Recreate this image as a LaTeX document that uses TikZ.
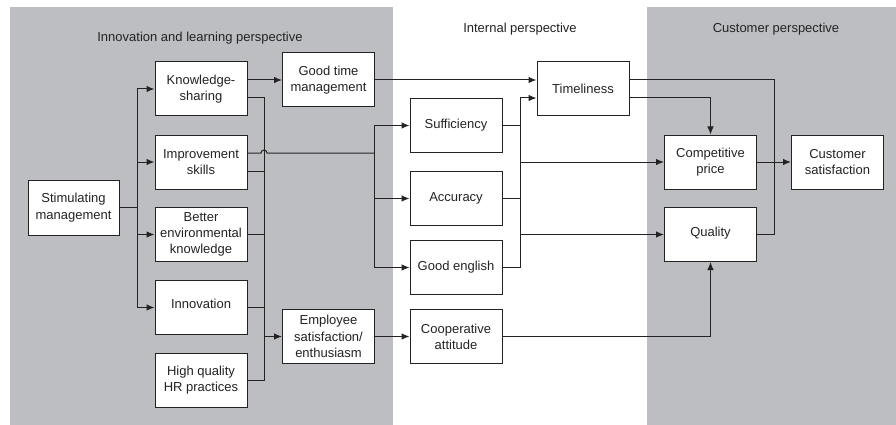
\documentclass[tikz,border=0pt]{standalone}
\usepackage{fontspec}
\setmainfont{Liberation Sans}
\usepackage{tikz}
\usetikzlibrary{arrows.meta}

\definecolor{panelgrey}{RGB}{189,190,194}
\definecolor{inkgrey}{RGB}{35,35,35}

\begin{document}
\begin{tikzpicture}[x=1pt, y=-1pt,
	box/.style={draw=inkgrey, line width=1pt, fill=white, minimum width=92pt, minimum height=54pt,
		inner sep=1pt, align=center, font=\fontsize{13}{16.3}\selectfont, text=inkgrey},
	title/.style={font=\fontsize{13}{15}\selectfont, text=inkgrey},
	line/.style={draw=inkgrey, line width=1pt},
	arr/.style={line, -{Latex[length=8pt,width=6.5pt]}}]
	\useasboundingbox (0,0) rectangle (896,425);
	% panels
	\fill[white] (0,0) rectangle (896,425);
	\fill[panelgrey] (10,7) rectangle (393,425);
	\fill[panelgrey] (647,7) rectangle (896,425);
	\node[title] (t1) at (200,38) {Innovation and learning perspective};
	\node[title] (t2) at (520,29) {Internal perspective};
	\node[title] (t3) at (776,29) {Customer perspective};
	% boxes
	\node[box, minimum width=91pt, minimum height=55pt] (stim) at (73.5,207.5) {Stimulating\\management};
	\node[box] (ks) at (201,89) {Knowledge-\\sharing};
	\node[box] (imp) at (201,162) {Improvement\\skills};
	\node[box] (env) at (201,234.5) {Better\\environmental\\knowledge};
	\node[box] (inn) at (201,307.5) {\raisebox{8pt}{Innovation}};
	\node[box] (hr) at (201,380) {High quality\\HR practices};
	\node[box] (gtm) at (328.5,80) {Good time\\management};
	\node[box] (emp) at (328.5,336.5) {Employee\\satisfaction/\\enthusiasm};
	\node[box] (suf) at (456,125.5) {Sufficiency};
	\node[box] (acc) at (456,198.5) {Accuracy};
	\node[box] (eng) at (456,267.5) {Good english};
	\node[box] (coop) at (456,336.5) {Cooperative\\attitude};
	\node[box] (tim) at (583,89) {Timeliness};
	\node[box] (price) at (710.5,162) {Competitive\\price};
	\node[box] (qual) at (710.5,234.5) {\raisebox{6pt}{Quality}};
	\node[box] (cust) at (837.5,162) {Customer\\satisfaction};
	% bus points
	\coordinate (sb) at (137,207.5);
	\coordinate (cb) at (264,336.5);
	\coordinate (ib) at (374,153);
	\coordinate (rb) at (520,98);
	\coordinate (cb2) at (774,162);
	% stimulating management fans out
	\draw[line] (stim) -- (sb);
	\foreach \n in {ks,imp,env,inn}
		\draw[arr] (sb) |- (\n.west);
	% into employee satisfaction
	\draw[line] ([yshift=-9pt]ks.east) -| (cb);
	\draw[line] ([yshift=-9pt]imp.east) -| (cb);
	\foreach \n in {env,inn,hr}
		\draw[line] (\n.east) -| (cb);
	\draw[arr] (cb) -- (emp.west);
	\draw[arr] (emp) -- (coop);
	% time management
	\draw[arr] (ks.east |- gtm) -- (gtm.west);
	\draw[arr] (gtm.east) -- (gtm.east -| tim.west);
	% improvement skills to internal perspective
	\draw[line] ([yshift=9pt]imp.east) -- ([xshift=-3pt]ib -| cb) arc[start angle=180, end angle=0, radius=3pt] -- (ib);
	\foreach \n in {suf,acc,eng}
		\draw[arr] (ib) |- (\n.west);
	% internal to customer
	\draw[line] (suf.east) -- (suf.east -| rb);
	\draw[line] (acc.east) -- (acc.east -| rb);
	\draw[arr] (eng.east) -| (rb) -- ([yshift=-9pt]tim.west);
	\draw[arr] (rb |- price) -- (price.west);
	\draw[arr] (rb |- qual) -- (qual.west);
	\draw[arr] (coop.east) -| (qual.south);
	\draw[arr] ([yshift=-9pt]tim.east) -| (price.north);
	% customer satisfaction
	\draw[line] ([yshift=9pt]tim.east) -| (cb2);
	\draw[line] (qual.east) -| (cb2);
	\draw[arr] (price) -- (cust);
\end{tikzpicture}
\end{document}
